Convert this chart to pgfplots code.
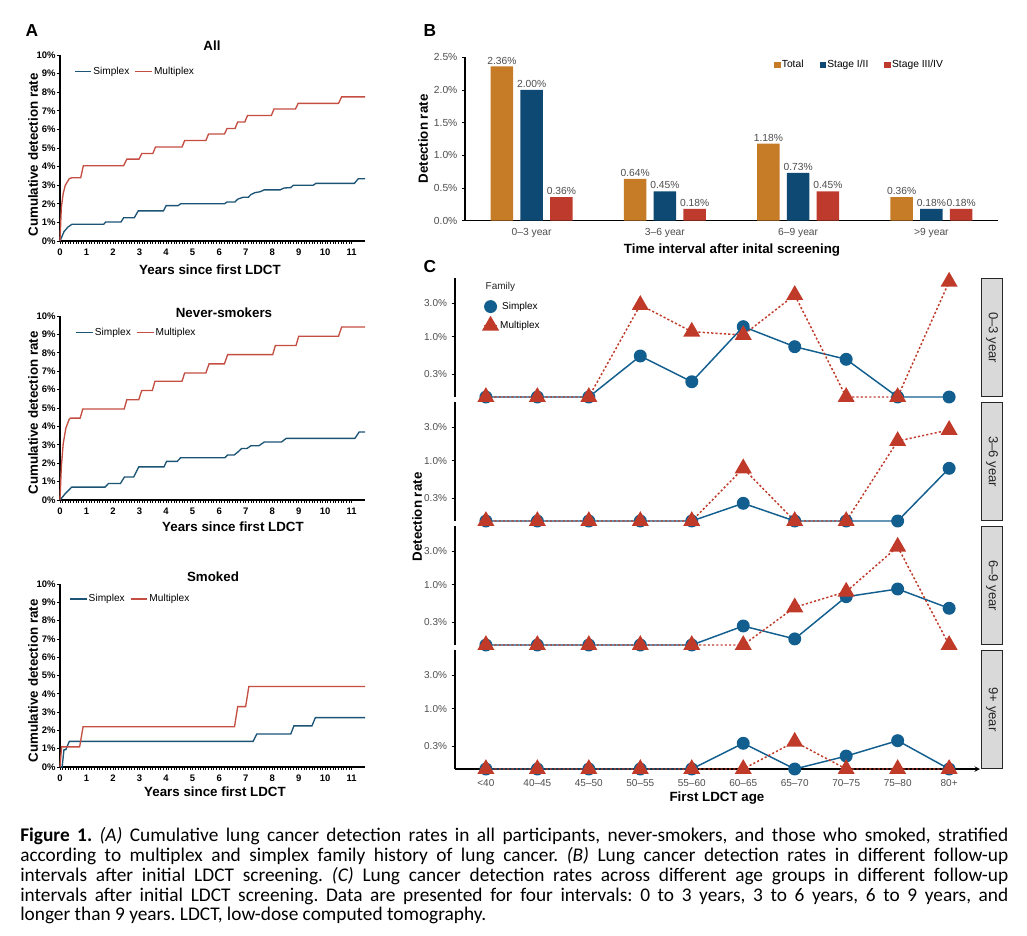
\documentclass[border=0pt]{standalone}
\usepackage{pgfplots}
\pgfplotsset{compat=1.18}
\usepackage{fontspec}
\setmainfont{Liberation Sans}
\newfontfamily\capfont{Carlito}
\frenchspacing
\definecolor{blueA}{RGB}{28,84,118}
\definecolor{redA}{RGB}{196,78,66}
\definecolor{orangeB}{RGB}{198,123,38}
\definecolor{blueB}{RGB}{13,73,115}
\definecolor{redB}{RGB}{190,58,44}
\definecolor{blueC}{RGB}{18,94,142}
\definecolor{redC}{RGB}{192,58,42}
\definecolor{tgray}{RGB}{77,77,77}
\definecolor{stripgray}{RGB}{217,217,217}
\newcommand\lab{\bfseries\fontsize{10}{12}\selectfont}

\tikzset{
  simplexC/.style={blueC, line width=1.1pt, mark=*, mark size=4.3pt,
    mark options={solid, fill=blueC, draw=blueC}},
  multiplexC/.style={redC, line width=1.1pt, dash pattern=on 1.6pt off 1.6pt,
    mark=triangle*, mark size=6.3pt, mark options={solid, fill=redC, draw=redC}},
}

\pgfplotsset{
  panelA/.style={
    scale only axis, width=228.75pt,
    xmin=0, xmax=11.5, ymin=0, ymax=10,
    axis x line=bottom, axis y line=left,
    axis line style={-, line width=0.9pt, black},
    xtick={0,1,...,11}, minor x tick num=9,
    ytick={0,1,...,10},
    tick align=outside, major tick length=2.2pt, minor tick length=2.2pt,
    tick style={black, line width=0.6pt},
    /pgf/number format/assume math mode=true,
    ticklabel style={font=\bfseries\fontsize{7.1}{8}\selectfont},
    yticklabel style={xshift=2.4pt},
    xticklabel style={yshift=-0.5pt},
    yticklabel={\pgfmathprintnumber{\tick}\%},
    legend style={draw=none, fill=none, font=\fontsize{7.6}{8}\selectfont,
      legend columns=2, inner sep=0pt,
      /tikz/every even column/.append style={column sep=3pt},
      nodes={inner sep=1pt}},
    legend image code/.code={\draw[##1] (0pt,0pt) -- (12.5pt,0pt);},
    clip=false,
  },
  % detection rates on a log scale: values are given in %, mapped by log10
  panelC/.style={
    scale only axis, width=393.75pt, height=89.25pt,
    xmin=-0.6, xmax=9.6,
    y filter/.expression={log10(y)},
    ymin=-0.84771, ymax=0.82802,
    axis y line=left,
    axis line style={-, black, line width=0.8pt},
    ytick={-0.52288,0,0.47712}, yticklabels={0.3\%,1.0\%,3.0\%},
    tick align=outside, major tick length=2.5pt,
    tick style={black, line width=0.6pt},
    ticklabel style={font=\fontsize{7.5}{8}\selectfont, text=tgray},
    clip=false,
  },
  Clegend/.style={
    legend image code/.code={\draw[mark repeat=2,mark phase=2,##1] plot coordinates {(1.2pt,0pt) (6.4pt,0pt) (11.6pt,0pt)};}
  },
  Blegend/.style={
    legend image code/.code={\fill[##1] (0pt,-2.4pt) rectangle (4.8pt,2.4pt);}
  },
}

\begin{document}
\begin{tikzpicture}
\begin{scope}[x=0.75pt, y=-0.75pt]
\path[use as bounding box] (0,0) rectangle (1027,935);
\coordinate (pA1) at (60,241);
\coordinate (pA2) at (60,500);
\coordinate (pA3) at (60,767);
\coordinate (pB) at (465,220.7);
\coordinate (pC1) at (455,397);
\coordinate (pC2) at (455,521);
\coordinate (pC3) at (455,645);
\coordinate (pC4) at (455,769);
\end{scope}

% ================= Panel A =================
% --- All ---
\begin{axis}[panelA, height=139.5pt, at={(pA1)}, anchor=south west,
  legend style={at={(0.045,0.91)}, anchor=west}]
\addplot[blueA, line width=1pt] coordinates {
(0,0) (0.15,0.5) (0.3,0.75) (0.45,0.9) (1.65,0.9) (1.72,1.02) (2.3,1.02) (2.4,1.25)
(2.8,1.25) (2.95,1.62) (3.9,1.62) (4.0,1.9) (4.45,1.9) (4.55,2.0) (6.2,2.0) (6.3,2.1)
(6.6,2.1) (6.7,2.25) (6.9,2.35) (7.1,2.35) (7.2,2.5) (7.35,2.6) (7.55,2.65) (7.7,2.75)
(8.3,2.75) (8.45,2.85) (8.7,2.87) (8.8,3.0) (9.55,3.0) (9.65,3.1) (11.1,3.1) (11.25,3.35) (11.5,3.35)};
\addlegendentry{Simplex}
\addplot[redA, line width=1pt] coordinates {
(0,0) (0.05,1.8) (0.12,2.55) (0.2,3.0) (0.35,3.35) (0.45,3.4) (0.78,3.4) (0.88,4.05)
(2.4,4.05) (2.52,4.4) (2.98,4.4) (3.08,4.7) (3.5,4.7) (3.6,5.05) (4.6,5.05) (4.7,5.4)
(5.5,5.4) (5.6,5.75) (6.2,5.75) (6.3,6.05) (6.6,6.05) (6.7,6.4) (6.97,6.4) (7.07,6.75)
(7.97,6.75) (8.07,7.1) (8.88,7.1) (8.98,7.4) (10.5,7.4) (10.62,7.75) (11.5,7.75)};
\addlegendentry{Multiplex}
\end{axis}

% --- Never-smokers ---
\begin{axis}[panelA, height=138pt, at={(pA2)}, anchor=south west,
  legend style={at={(0.05,0.91)}, anchor=west}]
\addplot[blueA, line width=1pt] coordinates {
(0,0) (0.2,0.35) (0.44,0.7) (1.7,0.7) (1.83,0.9) (2.28,0.9) (2.43,1.25) (2.78,1.25)
(2.97,1.8) (3.92,1.8) (4.02,2.1) (4.42,2.1) (4.55,2.3) (6.22,2.3) (6.32,2.45) (6.57,2.45)
(6.7,2.6) (6.85,2.8) (7.05,2.8) (7.2,2.95) (7.5,2.95) (7.7,3.15) (8.35,3.15) (8.53,3.35)
(11.12,3.35) (11.28,3.7) (11.5,3.7)};
\addlegendentry{Simplex}
\addplot[redA, line width=1pt] coordinates {
(0,0) (0.05,1.8) (0.12,3.05) (0.22,3.9) (0.35,4.4) (0.4,4.45) (0.76,4.45) (0.86,4.95)
(2.42,4.95) (2.52,5.45) (2.97,5.45) (3.08,5.95) (3.48,5.95) (3.58,6.45) (4.6,6.45) (4.7,6.9)
(5.5,6.9) (5.62,7.4) (6.2,7.4) (6.32,7.9) (8.02,7.9) (8.12,8.4) (8.9,8.4) (9.0,8.9)
(10.5,8.9) (10.62,9.4) (11.5,9.4)};
\addlegendentry{Multiplex}
\end{axis}

% --- Smoked ---
\begin{axis}[panelA, height=137.25pt, at={(pA3)}, anchor=south west,
  legend style={at={(0.03,0.918)}, anchor=west}]
\addplot[blueA, line width=1pt] coordinates {
(0,0) (0.08,0) (0.15,0.95) (0.22,0.95) (0.35,1.4) (7.28,1.4) (7.42,1.8) (8.7,1.8)
(8.82,2.25) (9.5,2.25) (9.63,2.7) (11.5,2.7)};
\addlegendentry{Simplex}
\addplot[redA, line width=1pt] coordinates {
(0,0) (0.06,1.1) (0.74,1.1) (0.87,2.2) (6.58,2.2) (6.7,3.3) (7.0,3.3) (7.12,4.4) (11.5,4.4)};
\addlegendentry{Multiplex}
\end{axis}

% ================= Panel B =================
\begin{axis}[scale only axis, width=399.75pt, height=122.55pt,
  at={(pB)}, anchor=south west,
  xmin=-0.5, xmax=3.5, ymin=0, ymax=2.5,
  axis x line=bottom, axis y line=left,
  axis line style={-, black, line width=0.8pt},
  xtick={0,1,2,3},
  xticklabels={0–3 year, 3–6 year, 6–9 year, \textgreater9 year},
  x tick style={draw=none},
  ytick={0,0.5,1,1.5,2,2.5},
  tick align=outside, major tick length=2.2pt,
  y tick style={black, line width=0.6pt},
  /pgf/number format/assume math mode=true,
  yticklabel={\pgfmathprintnumber[fixed,fixed zerofill,precision=1]{\tick}\%},
  ticklabel style={font=\fontsize{7.7}{8}\selectfont, text=tgray},
  clip=false,
  nodes near coords={\pgfmathprintnumber[fixed,fixed zerofill,precision=2]{\pgfplotspointmeta}\%},
  every node near coord/.append style={font=\fontsize{7.7}{8}\selectfont, text=tgray, inner sep=1.5pt},
  legend style={at={(0.572,0.953)}, anchor=west, draw=none, fill=none,
    font=\fontsize{7.7}{8}\selectfont, legend columns=3,
    /tikz/every even column/.append style={column sep=11pt},
    nodes={inner sep=1pt}},
  Blegend,
]
\addplot[ybar, bar width=17pt, bar shift=-22.3pt, fill=orangeB, draw=none, forget plot,
  every node near coord/.append style={xshift=-22.3pt}]
  coordinates {(0,2.36) (1,0.64) (2,1.18) (3,0.36)};
\addplot[ybar, bar width=17pt, bar shift=0pt, fill=blueB, draw=none, forget plot]
  coordinates {(0,2.00) (1,0.45) (2,0.73) (3,0.18)};
\addplot[ybar, bar width=17pt, bar shift=22.3pt, fill=redB, draw=none, forget plot,
  every node near coord/.append style={xshift=22.3pt}]
  coordinates {(0,0.36) (1,0.18) (2,0.45) (3,0.18)};
\addlegendimage{fill=orangeB, draw=none}
\addlegendentry{Total}
\addlegendimage{fill=blueB, draw=none}
\addlegendentry{Stage I/II}
\addlegendimage{fill=redB, draw=none}
\addlegendentry{Stage III/IV}
\end{axis}

% ================= Panel C =================
% rates in %; a rate of zero is drawn at the bottom edge (0.142)
\begin{axis}[panelC, at={(pC1)}, anchor=south west, axis x line=none, xtick=\empty,
  legend style={at={(0.045,0.68)}, anchor=west, draw=none, fill=none,
    font=\fontsize{7.5}{8}\selectfont, row sep=3pt, nodes={inner sep=1.5pt}},
  Clegend]
\addplot[simplexC] coordinates {(0,0.142) (1,0.142) (2,0.142) (3,0.537) (4,0.233) (5,1.39) (6,0.726) (7,0.482) (8,0.142) (9,0.142)};
\addlegendentry{Simplex}
\addplot[multiplexC] coordinates {(0,0.142) (1,0.142) (2,0.142) (3,2.81) (4,1.18) (5,1.06) (6,3.88) (7,0.142) (8,0.142) (9,5.97)};
\addlegendentry{Multiplex}
\end{axis}

\begin{axis}[panelC, at={(pC2)}, anchor=south west, axis x line=none, xtick=\empty]
\addplot[simplexC] coordinates {(0,0.142) (1,0.142) (2,0.142) (3,0.142) (4,0.142) (5,0.252) (6,0.142) (7,0.142) (8,0.142) (9,0.784)};
\addplot[multiplexC] coordinates {(0,0.142) (1,0.142) (2,0.142) (3,0.142) (4,0.142) (5,0.784) (6,0.142) (7,0.142) (8,1.90) (9,2.72)};
\end{axis}

\begin{axis}[panelC, at={(pC3)}, anchor=south west, axis x line=none, xtick=\empty]
\addplot[simplexC] coordinates {(0,0.142) (1,0.142) (2,0.142) (3,0.142) (4,0.142) (5,0.263) (6,0.173) (7,0.68) (8,0.873) (9,0.467)};
\addplot[multiplexC] coordinates {(0,0.142) (1,0.142) (2,0.142) (3,0.142) (4,0.142) (5,0.142) (6,0.482) (7,0.80) (8,3.44) (9,0.142)};
\end{axis}

\begin{axis}[panelC, at={(pC4)}, anchor=south west, axis x line=bottom,
  xtick={0,...,9},
  xticklabels={\textless40, 40–45, 45–50, 50–55, 55–60, 60–65, 65–70, 70–75, 75–80, 80+},
  x tick style={draw=none}, xticklabel style={yshift=-3pt}]
\addplot[simplexC] coordinates {(0,0.142) (1,0.142) (2,0.142) (3,0.142) (4,0.142) (5,0.327) (6,0.142) (7,0.216) (8,0.356) (9,0.142)};
\addplot[multiplexC] coordinates {(0,0.142) (1,0.142) (2,0.142) (3,0.142) (4,0.142) (5,0.142) (6,0.344) (7,0.142) (8,0.142) (9,0.142)};
\end{axis}

% ================= Text, strips and caption =================
\begin{scope}[x=0.75pt, y=-0.75pt]
\node[font=\bfseries\fontsize{13}{14}\selectfont] at (32,31) {A};
\node[font=\lab] at (212,46) {All};
\node[font=\lab, rotate=90] at (33,155) {Cumulative detection rate};
\node[font=\lab] at (210,270) {Years since first LDCT};
\node[font=\lab] at (224,313) {Never-smokers};
\node[font=\lab, rotate=90] at (33,413) {Cumulative detection rate};
\node[font=\lab] at (233,527) {Years since first LDCT};
\node[font=\lab] at (213,577) {Smoked};
\node[font=\lab, rotate=90] at (33,681) {Cumulative detection rate};
\node[font=\lab] at (215,792) {Years since first LDCT};

\node[font=\bfseries\fontsize{13}{14}\selectfont] at (430,31) {B};
\node[font=\lab, rotate=90] at (423,139) {Detection rate};
\node[font=\lab] at (732,250) {Time interval after inital screening};

\node[font=\bfseries\fontsize{13}{14}\selectfont] at (430,267) {C};
\node[anchor=west, font=\fontsize{7.5}{8}\selectfont, text=black!85] at (481,287) {Family};
\foreach \t/\b/\txt in {278/397/0–3 year, 402/521/3–6 year, 526/645/6–9 year, 650/769/9+ year}{
  \draw[fill=stripgray, draw=black!85, line width=0.9pt] (981.5,\t+0.5) rectangle (1002.5,\b-0.5);
  \node[rotate=-90, font=\fontsize{9.8}{10}\selectfont, text=black!85] at (992,{(\t+\b)/2}) {\txt};
}
\node[font=\lab, rotate=90] at (417,517) {Detection rate};
\node[font=\lab] at (717,798) {First LDCT age};

\begin{scope}[every node/.style={anchor=base west, inner sep=0pt, font=\capfont\fontsize{14.5}{16}\selectfont}]
\node at (20,841) {\makebox[741pt][s]{\textbf{Figure 1.} \textit{(A)} Cumulative lung cancer detection rates in all participants, never-smokers, and those who smoked, stratified}};
\node at (20,861) {\makebox[741pt][s]{according to multiplex and simplex family history of lung cancer. \textit{(B)} Lung cancer detection rates in different follow-up}};
\node at (20,881) {\makebox[741pt][s]{intervals after initial LDCT screening. \textit{(C)} Lung cancer detection rates across different age groups in different follow-up}};
\node at (20,901) {\makebox[741pt][s]{intervals after initial LDCT screening. Data are presented for four intervals: 0 to 3 years, 3 to 6 years, 6 to 9 years, and}};
\node at (20,920) {longer than 9 years. LDCT, low-dose computed tomography.};
\end{scope}
\end{scope}
\end{tikzpicture}
\end{document}
